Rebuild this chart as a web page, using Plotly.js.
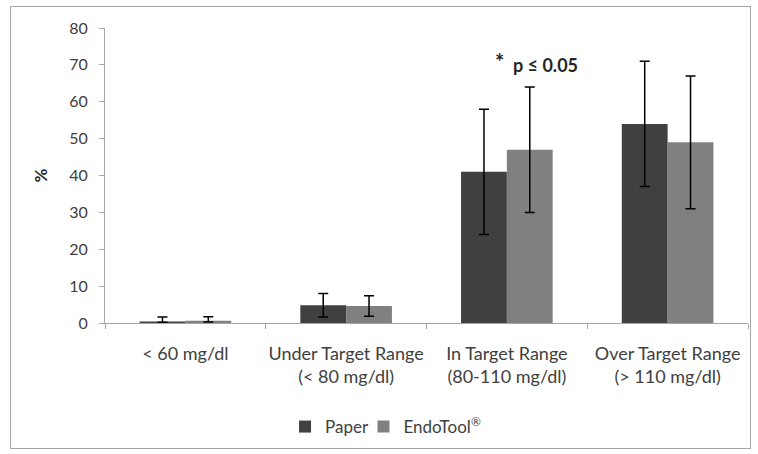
<!DOCTYPE html>
<html>
<head>
<meta charset="utf-8">
<script src="https://cdn.plot.ly/plotly-3.0.1.min.js"></script>
<style>
html,body{margin:0;padding:0;background:#fff;}
#wrap{position:relative;width:758px;height:454px;}
#chart{width:758px;height:454px;}
#frame{position:absolute;left:10px;top:6px;width:741px;height:443px;border:1px solid #a6a6a6;pointer-events:none;box-sizing:border-box;}
</style>
</head>
<body>
<div id="wrap"><div id="chart"></div><div id="frame"></div></div>
<script>
const categories = ["&lt; 60 mg/dl", "Under Target Range<br>(&lt; 80 mg/dl)", "In Target Range<br>(80-110 mg/dl)", "Over Target Range<br>(&gt; 110 mg/dl)"];
const paperValues = [0.4, 4.8, 41, 54];
const paperErrPlus = [1.2, 3.2, 17, 17];
const paperErrMinus = [0.2, 3.2, 17, 17];
const endoValues = [0.6, 4.6, 47, 49];
const endoErrPlus = [1.1, 2.8, 17, 18];
const endoErrMinus = [0.3, 2.8, 17, 18];
const yTicks = [0, 10, 20, 30, 40, 50, 60, 70, 80];

const font = "Lato, 'Open Sans', sans-serif";
const traces = [
  {type:"bar", name:"Paper", x:categories, y:paperValues, legend:"legend",
   marker:{color:"#404040"},
   error_y:{type:"data", symmetric:false, array:paperErrPlus, arrayminus:paperErrMinus, color:"#000", thickness:1.5, width:5}},
  {type:"bar", name:"EndoTool<sup>®</sup>", x:categories, y:endoValues, legend:"legend2",
   marker:{color:"#808080"},
   error_y:{type:"data", symmetric:false, array:endoErrPlus, arrayminus:endoErrMinus, color:"#000", thickness:1.5, width:5}}
];
const legendStyle = {orientation:"h", xanchor:"left", y:-0.348, yanchor:"middle", font:{size:17, color:"#404040"}, itemwidth:30, bgcolor:"rgba(0,0,0,0)"};
const layout = {
  width:758, height:454,
  margin:{l:105, r:10, t:28, b:130},
  paper_bgcolor:"#fff", plot_bgcolor:"#fff",
  font:{family:font, size:17, color:"#404040"},
  barmode:"group", bargap:0.43, bargroupgap:0,
  showlegend:true,
  legend:Object.assign({x:0.28}, legendStyle),
  legend2:Object.assign({x:0.402}, legendStyle),
  xaxis:{type:"category", tickangle:0, showline:true, linecolor:"#a6a6a6", linewidth:1, ticks:"outside", tickson:"boundaries", ticklen:5, tickcolor:"#a6a6a6", showgrid:false, ticklabelstandoff:14, tickfont:{size:18, color:"#404040"}},
  yaxis:{range:[0,80], tickvals:yTicks, showline:true, linecolor:"#a6a6a6", linewidth:1, ticks:"outside", ticklen:5, tickcolor:"#a6a6a6", showgrid:false, zeroline:false, ticklabelstandoff:8, tickfont:{size:16, color:"#404040"},
    title:{text:"<b>%</b>", font:{size:17, color:"#262626"}, standoff:17}},
  annotations:[
    {xref:"paper", yref:"y", x:0.623, xanchor:"right", y:71, text:"<b>*</b>", showarrow:false, font:{size:22, color:"#262626"}},
    {xref:"paper", yref:"y", x:0.738, xanchor:"right", y:70, text:"<b>p ≤ 0.05</b>", showarrow:false, font:{size:18, color:"#262626"}}
  ]
};
Plotly.newPlot("chart", traces, layout, {displayModeBar:false, staticPlot:true});
</script>
</body>
</html>
